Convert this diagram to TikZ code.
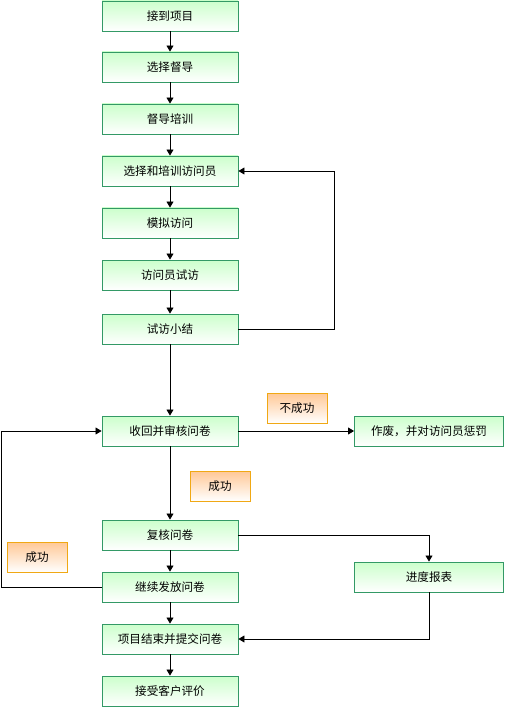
\documentclass[tikz,border=0pt]{standalone}
\usepackage{fontspec}
\setmainfont{Noto Sans CJK SC}
\usetikzlibrary{arrows.meta}
\definecolor{stepfill}{RGB}{204,255,204}
\definecolor{stepline}{RGB}{51,153,102}
\definecolor{tagfill}{RGB}{255,200,150}
\definecolor{tagline}{RGB}{240,168,20}

\begin{document}
\begin{tikzpicture}[
    x=1pt, y=-1pt,
    >={Triangle[length=6pt,width=7pt]},
    flow/.style={draw=black, line width=0.8pt},
    stepbox/.style={rectangle, draw=stepline, line width=0.9pt, top color=stepfill, bottom color=white,
      minimum width=136pt, minimum height=30pt, inner sep=0pt, font=\fontsize{11.6}{13}\selectfont},
    sidebox/.style={stepbox, minimum width=149pt},
    tagbox/.style={rectangle, draw=tagline, line width=0.9pt, top color=tagfill, bottom color=white,
      minimum width=60pt, minimum height=30pt, inner sep=0pt, font=\fontsize{11.6}{13}\selectfont},
  ]
  \useasboundingbox (0,0) rectangle (505,708);

  %% ================= main column =================
  \node[stepbox] (start)   at (170,16)  {接到项目};
  \node[stepbox] (choose)  at (170,67)  {选择督导};
  \node[stepbox] (train)   at (170,119) {督导培训};
  \node[stepbox] (hire)    at (170,171) {选择和培训访问员};
  \node[stepbox] (mock)    at (170,223) {模拟访问};
  \node[stepbox] (pilot)   at (170,275) {访问员试访};
  \node[stepbox] (review)  at (170,329) {试访小结};
  \node[stepbox] (collect) at (170,431) {收回并审核问卷};
  \node[stepbox] (recheck) at (170,535) {复核问卷};
  \node[stepbox] (issue)   at (170,587) {继续发放问卷};
  \node[stepbox] (finish)  at (170,639) {项目结束并提交问卷};
  \node[stepbox] (rating)  at (170,691) {接受客户评价};

  %% ================= right column =================
  \node[sidebox] (reject)   at (429,431) {作废，并对访问员惩罚};
  \node[sidebox] (progress) at (429,577) {进度报表};

  %% ================= outcome tags =================
  \node[tagbox] (fail) at (297,408) {不成功};
  \node[tagbox] (pass) at (220,486) {成功};
  \node[tagbox] (back) at (37,557)  {成功};

  %% ================= arrows down the column =================
  \foreach \a/\b in {start/choose, choose/train, train/hire, hire/mock, mock/pilot,
                     pilot/review, review/collect, collect/recheck, recheck/issue,
                     issue/finish, finish/rating} {
    \draw[flow,->] (\a) -- (\b);
  }

  %% ================= loops and side branches =================
  \coordinate (loopA) at (334,329);
  \coordinate (loopB) at (1,587);
  \draw[flow,->] (review.east) -- (loopA) |- (hire.east);
  \draw[flow,->] (issue.west) -- (loopB) |- (collect.west);
  \draw[flow,->] (collect.east) -- (reject.west);
  \draw[flow,->] (recheck.east) -| (progress.north);
  \draw[flow,->] (progress.south) |- (finish.east);

\end{tikzpicture}
\end{document}
